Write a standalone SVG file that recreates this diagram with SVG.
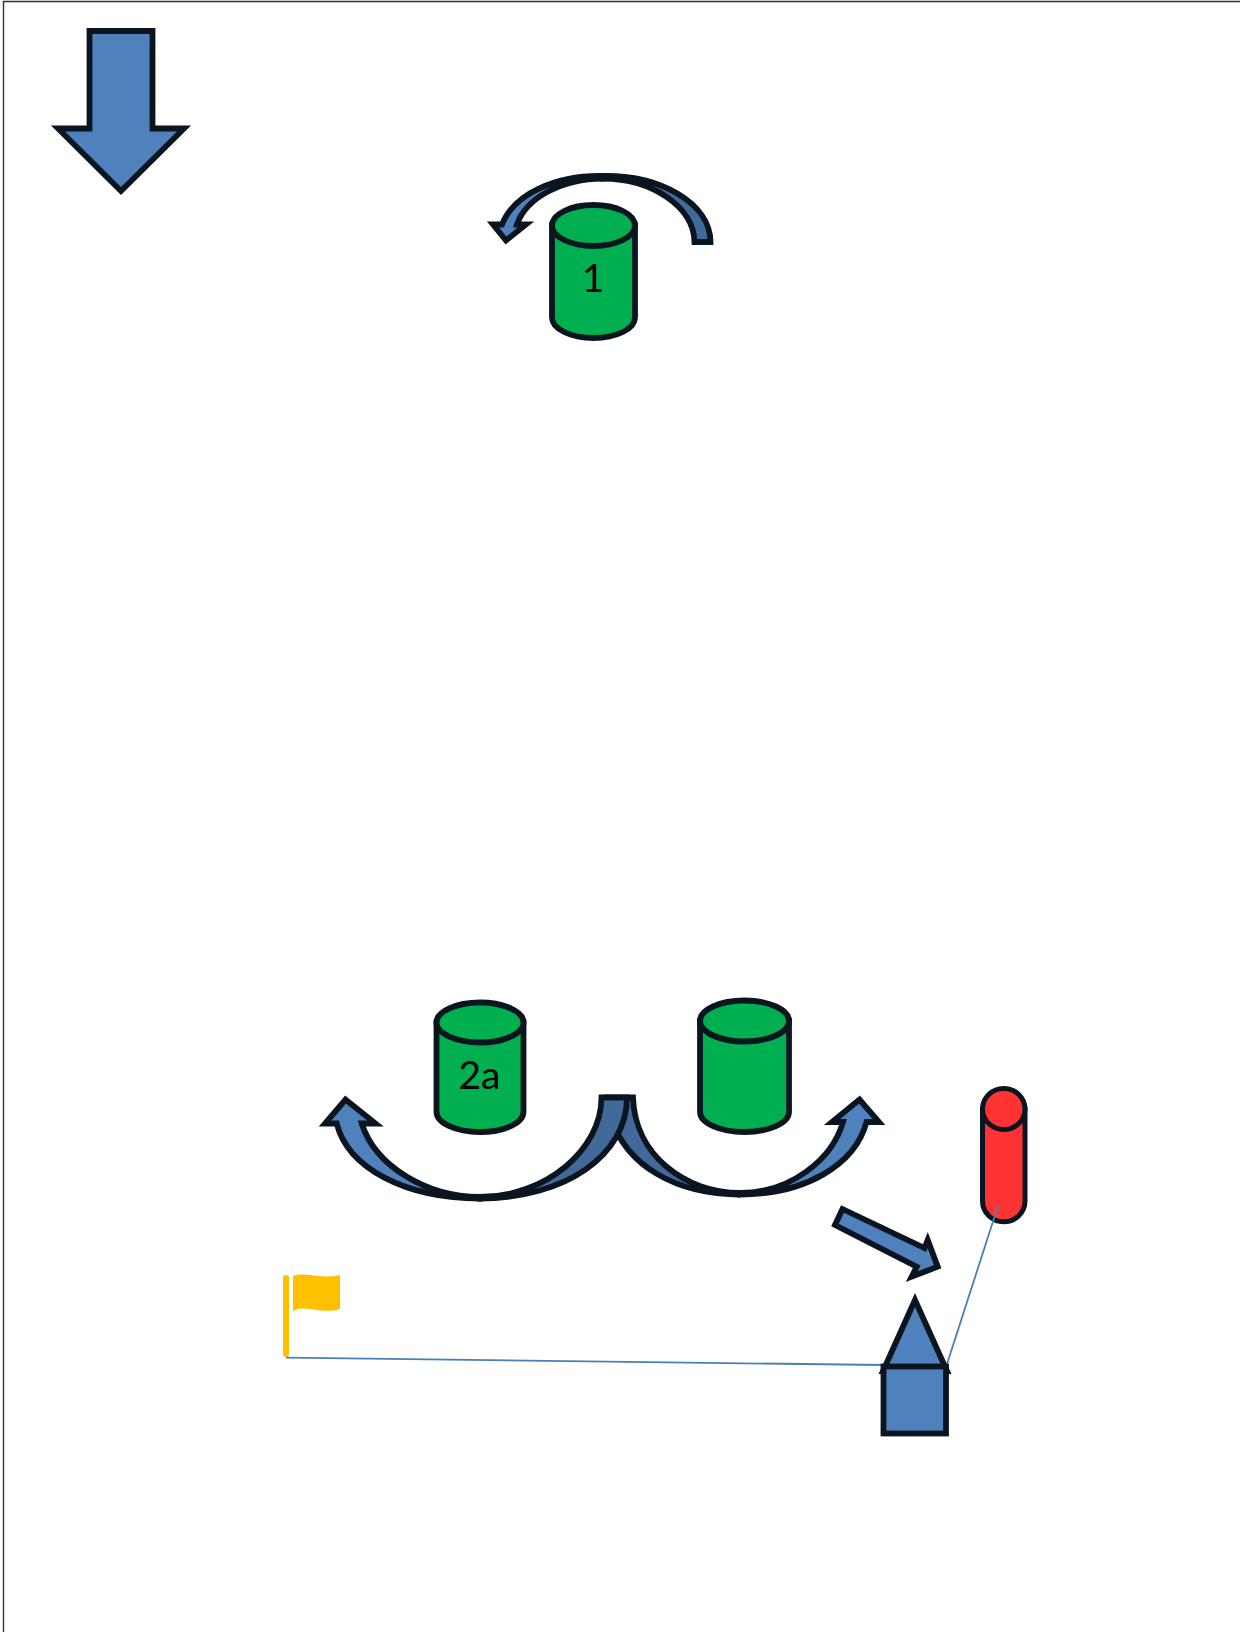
<svg xmlns="http://www.w3.org/2000/svg" width="1240" height="1632" viewBox="0 0 1240 1632">
<style>
.s{stroke:#0a1520;stroke-width:5.800;stroke-linejoin:miter;stroke-miterlimit:8}
.b{fill:#4f81bd}.d{fill:#416a9b}.g{fill:#00b050}.r{fill:#ff3333}
.c{fill:none;stroke:#4a7ebb;stroke-width:1.800}
text{font-family:"Lato","Liberation Sans",sans-serif;font-size:39px;fill:#000;text-anchor:middle}
</style>
<rect width="1240" height="1632" fill="#fff"/>
<path d="M3.500 1632V1.500H1240" fill="none" stroke="#333" stroke-width="1.400"/>
<g id="arrow-down"><path class="s b" d="M89.500 31H152.500V128.500H184L121 191L58 128.500H89.500Z"/></g>
<g id="turn-arrow-1">
<path class="s d" d="M603 176C660 175 710.500 203 710.500 242H694.500C694 207 652 178.500 603 178.500Z"/>
<path class="s b" d="M603 176C556 175 514 194 502 224.500H493L506 240.500L526 224.500H517C526 198 562 178.500 603 178.500Z"/>
</g>
<g id="cone-1">
<path class="s g" d="M552 225.500V317.500A41.500 20.500 0 0 0 635 317.500V225.500Z"/>
<ellipse class="s g" cx="593.500" cy="225.500" rx="41.500" ry="20.500"/>
<text x="593" y="292">1</text>
</g>
<g id="cone-2a">
<path class="s g" d="M436.500 1022.500V1112A43.500 20 0 0 0 523.500 1112V1022.500Z"/>
<ellipse class="s g" cx="480" cy="1022.500" rx="43.500" ry="20"/>
<text x="479.500" y="1089">2a</text>
</g>
<g id="cone-2b">
<path class="s g" d="M700 1021V1112A44.500 20 0 0 0 789 1112V1021Z"/>
<ellipse class="s g" cx="744.500" cy="1021" rx="44.500" ry="20.500"/>
</g>
<g id="turn-arrow-right">
<path class="s d" d="M607 1097.500H633C635 1155 685 1193 740 1193C738 1194 738 1194.500 740 1194.500C675 1194.500 627 1165 612 1120Z"/>
<path class="s b" d="M740 1193C790 1193 832 1160 843 1122H832L859.500 1099.500L879 1122H866.500C855 1165 805 1194.500 740 1194.500Z"/>
</g>
<g id="turn-arrow-left">
<path class="s d" d="M480 1197C545 1197 601.500 1150 601.500 1097.500H627C627 1155 565 1198.500 480 1198.500Z"/>
<path class="s b" d="M480 1197C425 1197 375 1165 361.700 1123.500H375.500L345.500 1099.500L325 1123.500H336.700C348 1168 405 1198.500 480 1198.500Z"/>
</g>
<g id="arrow-small"><path class="s b" d="M842.500 1209L835 1225L916.700 1266.700L911.700 1276.700L937.700 1266.700L927.700 1240L924.500 1248Z"/></g>
<g id="red-cone">
<path class="s r" style="stroke-width:5" d="M982.500 1109V1201A21 20.500 0 0 0 1025 1201V1109Z"/>
<ellipse class="s r" style="stroke-width:5" cx="1003.750" cy="1109" rx="21.250" ry="20.500"/>
</g>
<g id="flag">
<rect x="283" y="1275" width="6" height="82" rx="3" fill="#ffc000"/>
<path fill="#ffc000" d="M293 1276C307 1271 320 1280 340 1275V1309C320 1315 307 1304 293 1311Z"/>
</g>
<g id="connectors">
<path class="c" d="M286 1357.700L883 1365"/>
<path class="c" d="M946.700 1365L998.300 1205"/>
</g>
<g id="player">
<path class="s b" d="M915 1300L883 1371H947Z"/>
<rect class="s b" x="883.500" y="1366.500" width="62.500" height="67"/>
</g>
</svg>
